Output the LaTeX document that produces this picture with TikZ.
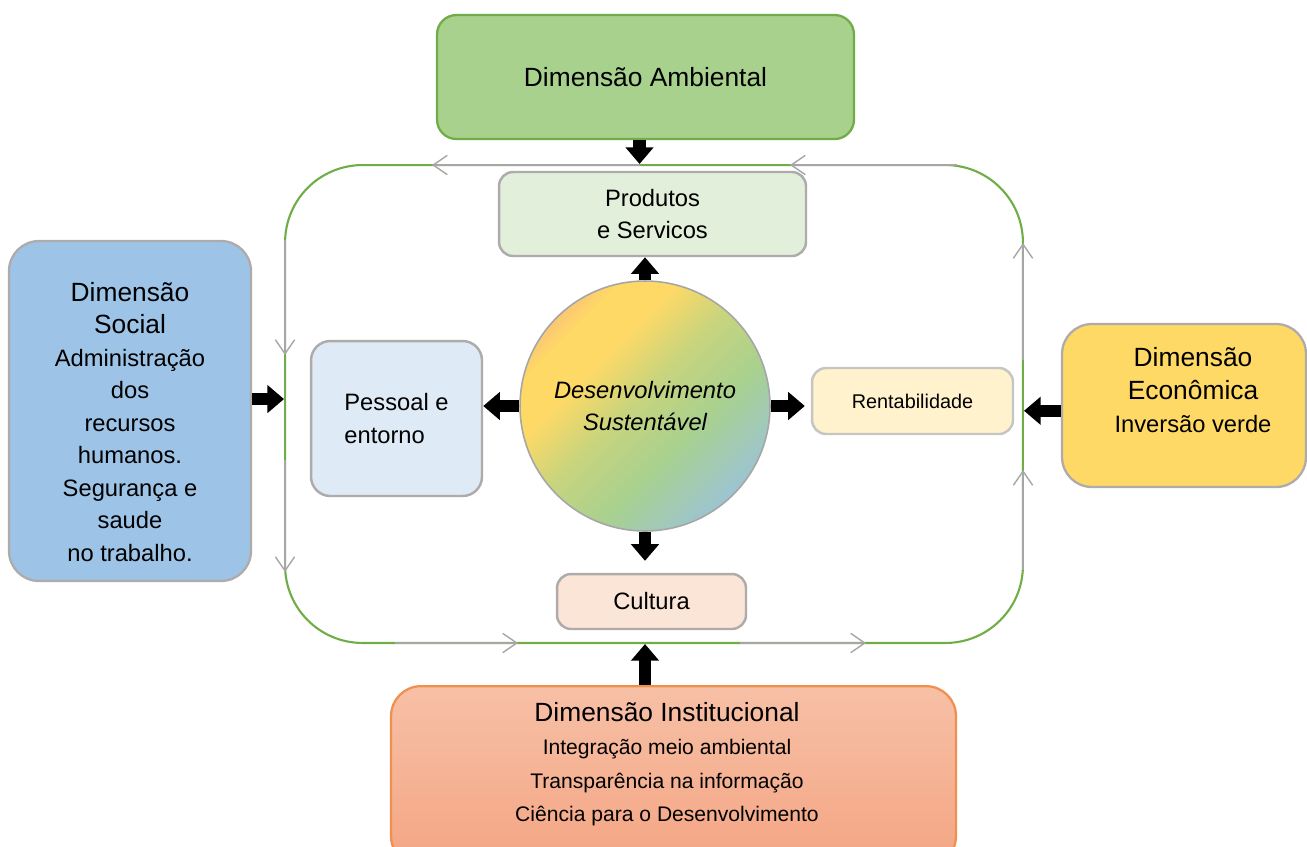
\documentclass[tikz,border=0pt]{standalone}
\usepackage{fontspec}
\setmainfont{Liberation Sans}
\usetikzlibrary{arrows.meta}

\definecolor{ambfill}{HTML}{A9D18E}
\definecolor{ambline}{HTML}{70AD47}
\definecolor{boxline}{HTML}{AFABAB}
\definecolor{prodfill}{HTML}{E2EFDA}
\definecolor{pessfill}{HTML}{DEEBF7}
\definecolor{rentfill}{HTML}{FFF2CC}
\definecolor{cultfill}{HTML}{FBE5D6}
\definecolor{socfill}{HTML}{9DC3E6}
\definecolor{econfill}{HTML}{FFD966}
\definecolor{insttop}{HTML}{F7C0A6}
\definecolor{instbot}{HTML}{F4A583}
\definecolor{instline}{HTML}{F0904F}
\definecolor{cycgrey}{HTML}{A6A6A6}
\definecolor{gorange}{HTML}{F4B183}
\definecolor{gyellow}{HTML}{FFD966}
\definecolor{ggreen}{HTML}{A9D18E}
\definecolor{gmix}{HTML}{C8D47E}
\definecolor{gblue}{HTML}{9CC4D2}

\pgfdeclareverticalshading{sustgrad}{100bp}{color(0bp)=(gblue); color(25bp)=(gblue); color(40bp)=(ggreen); color(52bp)=(gmix); color(63bp)=(gyellow); color(71bp)=(gyellow); color(80bp)=(gorange); color(100bp)=(gorange)}

\newcommand\bigfont{\fontsize{15}{18.7}\selectfont}
\newcommand\medfont{\fontsize{13.5}{18.5}\selectfont}
\newcommand\smallfont{\fontsize{12}{19}\selectfont}

\tikzset{
  dimbox/.style={draw=boxline, line width=1.3pt, rounded corners=17pt, align=center},
  subbox/.style={draw=boxline, line width=1.4pt, rounded corners=8pt, align=center, font=\medfont},
  blkarrow/.style={draw, line width=7pt, -{Triangle[length=9.5pt,width=15.5pt]}},
  cyc/.style={draw=cycgrey, line width=0.8pt, -{Straight Barb[length=8pt,width=11pt]}},
}

\begin{document}
\begin{tikzpicture}[x=0.02cm,y=-0.02cm]
\useasboundingbox (0,0) rectangle (1307,846);

% cycle frame
\node (ciclo) [draw=ambline, line width=1.2pt, rounded corners=1.55cm, inner sep=0pt,
  minimum width=14.76cm, minimum height=9.56cm] at (654,404) {};
\draw[cyc] (957,165) -- (790,165);
\draw[cyc] (640,165) -- (432,165);
\draw[cyc] (285,240) -- (285,355);
\draw[cyc] (285,460) -- (285,572);
\draw[cyc] (395,643) -- (518,643);
\draw[cyc] (740,643) -- (866,643);
\draw[cyc] (1023,570) -- (1023,470);
\draw[cyc] (1023,360) -- (1023,243);

% dimensions
\node (amb) [dimbox, draw=ambline, fill=ambfill, rounded corners=11pt, minimum width=8.34cm,
  minimum height=2.48cm, font=\bigfont] at (645.5,77) {Dimensão Ambiental};

\node (soc) [dimbox, fill=socfill, minimum width=4.84cm, minimum height=6.8cm] at (130,411) {};
\node (soctxt) [align=center, font=\medfont] at (130,422)
  {\bigfont Dimensão\\ \bigfont Social\\ \medfont Administração\\ dos\\ recursos\\ humanos.\\ Segurança e\\ saude\\ no trabalho.};

\node (econ) [dimbox, fill=econfill, minimum width=4.88cm, minimum height=3.26cm] at (1184,405.5) {};
\node (econtxt) [align=center, font=\bigfont] at (1193,390)
  {Dimensão\\ Econômica\\ \medfont Inversão verde};

\node (inst) [dimbox, draw=instline, top color=insttop, bottom color=instbot, minimum width=11.3cm,
  minimum height=3.6cm, anchor=north] at (673.5,685) {};
\node (insttxt) [align=center, font=\smallfont] at (667,764)
  {\bigfont Dimensão Institucional\\ \smallfont Integração meio ambiental\\ Transparência na informação\\ Ciência para o Desenvolvimento};

% inner boxes
\node (prod) [subbox, fill=prodfill, minimum width=6.14cm, minimum height=1.68cm] at (652.5,214) {Produtos\\ e Servicos};
\node (pess) [subbox, fill=pessfill, align=left, rounded corners=11pt, minimum width=3.42cm,
  minimum height=3.1cm] at (396.5,418.5) {Pessoal e\\ entorno};
\node (rent) [subbox, draw=boxline!70, fill=rentfill, minimum width=4.02cm, minimum height=1.32cm,
  font=\fontsize{11.3}{14}\selectfont, text depth=-1pt] at (912.5,401) {Rentabilidade};
\node (cult) [subbox, fill=cultfill, minimum width=3.78cm, minimum height=1.1cm] at (651.5,601.5) {Cultura};

\node (circ) [circle, draw=cycgrey, line width=0.9pt, shade, shading=sustgrad, shading angle=45,
  minimum size=5cm, align=center, font=\medfont\itshape] at (645,406) {Desenvolvimento\\ Sustentável};

\begin{scope}[every edge/.style={blkarrow}]
  \path ([xshift=-3.4pt]amb.south) edge ([xshift=-3.4pt]amb.south |- ciclo.north);
  \path (circ.north) edge (circ.north |- prod.south);
  \path (circ.west) edge (circ.west -| pess.east);
  \path (circ.east) edge ([xshift=-3.4pt]circ.east -| rent.west);
  \path (circ.south) edge ([yshift=6.8pt]circ.south |- cult.north);
  \path ([yshift=6.8pt]soc.east) edge ([yshift=6.8pt]soc.east -| ciclo.west);
  \path ([yshift=-3pt]econ.west) edge ([yshift=-3pt]econ.west -| ciclo.east);
  \path (circ |- inst.north) edge (circ |- ciclo.south);
\end{scope}

\end{tikzpicture}
\end{document}
